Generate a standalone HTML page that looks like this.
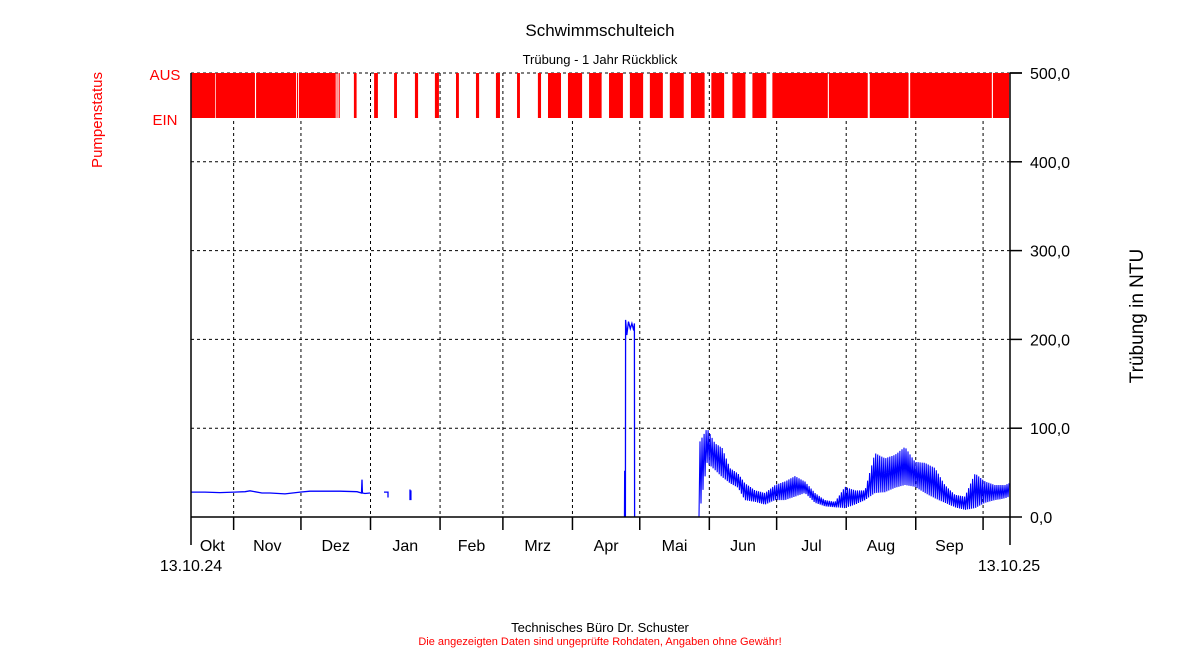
<!DOCTYPE html>
<html><head><meta charset="utf-8"><style>
html,body{margin:0;padding:0;background:#fff;}
svg{display:block;font-family:"Liberation Sans",sans-serif;}
</style></head><body>
<svg id="chart" width="1200" height="650">
<text x="600" y="36" text-anchor="middle" font-size="17">Schwimmschulteich</text>
<text x="600" y="64" text-anchor="middle" font-size="13">Trübung - 1 Jahr Rückblick</text>
<text x="165" y="80" text-anchor="middle" font-size="15" fill="#f00">AUS</text>
<text x="165" y="125" text-anchor="middle" font-size="15" fill="#f00">EIN</text>
<text transform="translate(102,120) rotate(-90)" text-anchor="middle" font-size="15" fill="#f00">Pumpenstatus</text>
<text transform="translate(1143,316) rotate(-90)" text-anchor="middle" font-size="19">Trübung in NTU</text>
<text x="191" y="571" text-anchor="middle" font-size="16">13.10.24</text>
<text x="1009" y="571" text-anchor="middle" font-size="16">13.10.25</text>
<text x="600" y="632" text-anchor="middle" font-size="13">Technisches Büro Dr. Schuster</text>
<text x="600" y="645" text-anchor="middle" font-size="11" fill="#f00">Die angezeigten Daten sind ungeprüfte Rohdaten, Angaben ohne Gewähr!</text>
<g id="grid"></g><g id="pump"></g><g id="series"></g><g id="axes"></g>
</svg>
<script>
const yTicks=[0,100,200,300,400,500];
const yTickLabels=["0,0","100,0","200,0","300,0","400,0","500,0"];
const monthStarts=[19,49,80,111,139,170,200,231,261,292,323,353];
const monthLabels=["Okt","Nov","Dez","Jan","Feb","Mrz","Apr","Mai","Jun","Jul","Aug","Sep"];
const monthLabelDays=[9.5,34,64.5,95.5,125,154.5,185,215.5,246,276.5,307.5,338];
const pumpStart=[0.3,11.0,29.0,47.2,48.1,64.9,65.8,72.6,81.6,90.5,99.8,108.7,118.1,127.0,135.9,145.3,154.6,159.1,168.0,177.4,186.3,195.6,204.5,213.4,222.8,231.9,241.3,250.2,259.1,284.3,302.5,320.5,357.4];
const pumpEnd=[10.7,28.5,46.8,47.7,64.5,65.1,66.3,73.8,83.3,91.8,101.2,110.5,119.4,128.4,137.7,146.6,156.0,164.9,174.3,183.0,192.5,201.5,210.3,219.6,228.9,237.6,247.1,256.4,283.8,301.6,319.8,356.9,364.6];
const earlyDays=[0,6.2,12.9,19.2,24.1,26.3,31.6,35.2,41.9,48.6,53.0,66.4,74.0,76.0,76.2,76.4,77.5,79.8];
const earlyVals=[28,28,27.5,28,28.5,29.5,27,27,26,28,29,29,28.5,27,42,27,26.5,27];
const jan1Days=[86.0,86.5,87.8,87.8];const jan1Vals=[28,28,28,22];
const jan2Days=[97.6,97.6,98.0,98.0];const jan2Vals=[31,19,30,19];
const aprDays=[193.2,193.3,193.6,193.7,194.2,195.0,195.8,196.5,197.3,197.6,197.7];
const aprVals=[0,52,0,222,205,220,212,218,210,218,0];
const noisyDays=[226.4,230.0,233.5,236.7,240.2,243.8,246.9,251.4,255.8,260.3,264.7,269.2,273.6,278.1,282.6,287.0,291.5,295.9,300.4,304.8,309.3,313.8,318.2,322.7,327.1,331.6,336.0,340.5,344.9,349.4,353.9,358.3,362.8,364.6];
const noisyHi=[83,100,83,78,55,49,38,30,27,36,40,46,40,27,19,17,34,30,30,72,66,70,79,62,61,55,36,25,23,49,40,36,36,38];
const noisyLo=[0,61,53,45,38,33,19,17,14,19,19,23,27,16,12,11,10,14,19,27,28,33,36,34,27,21,16,11,8,10,16,19,21,23];

const NS="http://www.w3.org/2000/svg";
const X0=191,X1=1010,Y0=517,Y1=73,DAYS=365;
const xs=d=>X0+d*(X1-X0)/DAYS;
const ys=v=>Y0-v*(Y0-Y1)/500;
function mk(tag,attrs,parent){const e=document.createElementNS(NS,tag);for(const k in attrs)e.setAttribute(k,attrs[k]);parent.appendChild(e);return e;}
const grid=document.getElementById('grid'),pump=document.getElementById('pump'),series=document.getElementById('series'),axes=document.getElementById('axes');

yTicks.forEach((t,i)=>{
  if(t>0){const l=mk('line',{x1:X0,x2:X1,y1:ys(t),y2:ys(t),stroke:'#000','stroke-width':1,'stroke-dasharray':'3,3'},grid);
  
  }
  const tk=mk('line',{x1:X1,x2:X1+12,y1:ys(t),y2:ys(t),stroke:'#000','stroke-width':1.5},axes);
  
  
  const tx=mk('text',{x:X1+20,y:ys(t)+6,'font-size':16},axes);tx.textContent=yTickLabels[i];
  
  
});
monthStarts.forEach(d=>{
  const l=mk('line',{x1:xs(d),x2:xs(d),y1:Y1,y2:Y0,stroke:'#000','stroke-width':1,'stroke-dasharray':'3,3'},grid);
  
  
  const tk=mk('line',{x1:xs(d),x2:xs(d),y1:Y0,y2:Y0+13,stroke:'#000','stroke-width':1.5},axes);
  
  
});
monthLabels.forEach((m,i)=>{
  const t=mk('text',{x:xs(monthLabelDays[i]),y:551,'text-anchor':'middle','font-size':16},axes);t.textContent=m;
  
  
});
pumpStart.forEach((s,i)=>{
  const r=mk('rect',{x:xs(s),y:73,width:Math.max(0.8,xs(pumpEnd[i])-xs(s)),height:45,fill:'#f00'},pump);
  
  
});
function line(days,vals,name){
  const p=mk('polyline',{points:days.map((d,i)=>xs(d).toFixed(1)+','+ys(vals[i]).toFixed(1)).join(' '),fill:'none',stroke:'#00f','stroke-width':1.3},series);
  
  
}
line(earlyDays,earlyVals,'turbidity-autumn');
line(jan1Days,jan1Vals,'turbidity-jan-1');
line(jan2Days,jan2Vals,'turbidity-jan-2');
line(aprDays,aprVals,'turbidity-april');
// noisy band: zig-zag between interpolated lo/hi
(function(){
  const pts=[];let k=0;
  for(let d=noisyDays[0];d<=noisyDays[noisyDays.length-1];d+=0.45){
    while(k<noisyDays.length-2&&d>noisyDays[k+1])k++;
    const f=(d-noisyDays[k])/(noisyDays[k+1]-noisyDays[k]);
    const hi=noisyHi[k]+(noisyHi[k+1]-noisyHi[k])*f;
    const lo=noisyLo[k]+(noisyLo[k+1]-noisyLo[k])*f;
    pts.push(xs(d).toFixed(1)+','+ys(pts.length%2?hi:lo).toFixed(1));
  }
  const p=mk('polyline',{points:pts.join(' '),fill:'none',stroke:'#00f','stroke-width':1.1},series);
  
  
})();
const ax=[[X0,Y1,X0,Y0,'left-axis'],[X0,Y0,X1,Y0,'x-axis'],[X1,Y1,X1,Y0,'right-axis'],[X0,Y0,X0,Y0+28,'start-tick'],[X1,Y0,X1,Y0+28,'end-tick'],[X1,Y1,X1+12,Y1,'top-tick']];
ax.forEach(a=>{const l=mk('line',{x1:a[0],y1:a[1],x2:a[2],y2:a[3],stroke:'#000','stroke-width':1.5},axes);
  
  });
</script>
</body></html>
